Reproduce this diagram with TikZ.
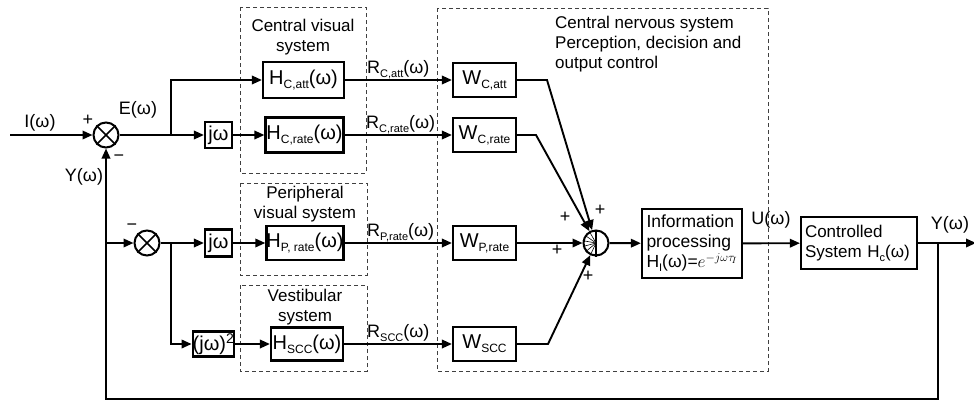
\documentclass[tikz,border=0pt]{standalone}
\usepackage{fontspec}
\setmainfont{Liberation Sans}
\usetikzlibrary{arrows.meta}
% lowered small subscript in text
\newcommand\lo[2][12]{\raisebox{-4pt}{\fontsize{#1}{#1}\selectfont #2}}
\tikzset{
  wire/.style={line width=1.9pt},
  arr/.style={wire, -{Triangle[length=10pt,width=8.5pt]}},
  blk/.style={draw, line width=2.2pt, inner sep=0pt, font=\fontsize{20}{22}\selectfont},
  wblk/.style={blk, minimum width=63pt, minimum height=34pt},
  frame/.style={line width=0.9pt, dash pattern=on 4pt off 3pt, black!75},
  captxt/.style={font=\fontsize{17}{20}\selectfont, align=center, inner sep=0pt},
  sig/.style={font=\fontsize{18}{20}\selectfont, inner sep=0pt},
  sgn/.style={font=\fontsize{18}{18}\selectfont, inner sep=0pt},
  junc/.style={draw, circle, line width=2pt, minimum size=25pt, inner sep=0pt},
}
\begin{document}
\begin{tikzpicture}[x=1pt, y=-1pt]
\useasboundingbox (0,0) rectangle (974,400);

% dashed group frames
\draw[frame] (240,7) rectangle (366,173);
\draw[frame] (240,183) rectangle (367,275);
\draw[frame] (240,285) rectangle (367,371);
\draw[frame] (437,8) rectangle (768,371);

\node[captxt] (tcv) at (303,37) {Central visual\\system};
\node[captxt] (tpv) at (305,204) {Peripheral\\visual system};
\node[captxt] (tvs) at (305,307) {Vestibular\\system};
\node[captxt, align=left, anchor=north west] (tcns) at (555,16)
  {Central nervous system\\Perception, decision and\\output control};

% summing junctions with cross
\node[junc] (s1) at (106,135) {};
\draw[line width=1.5pt] (s1.45) -- (s1.225) (s1.135) -- (s1.315);
\node[junc] (s2) at (147,243) {};
\draw[line width=1.5pt] (s2.45) -- (s2.225) (s2.135) -- (s2.315);

% multi-input junction
\node[junc] (sum) at (596,243) {};
\draw[line width=1.5pt] (sum.north) -- (sum.south);
\foreach \a in {120,145,170,195,220,245}
  \draw[line width=0.6pt] (sum.center) -- (sum.\a);

% blocks
\node[blk, minimum width=27pt, minimum height=26pt] (jw1) at (218.5,135) {jω};
\node[blk, minimum width=27pt, minimum height=27pt] (jw2) at (218.5,243) {jω};
\node[blk, minimum width=37pt, minimum height=25pt] (jw3) at (213.5,344) {(jω)\textsuperscript{2}};

\node[blk, minimum width=81pt, minimum height=36pt] (hca) at (303.5,80) {H\lo{C,att}(ω)};
\node[blk, minimum width=78pt, minimum height=35pt] (hcr) at (304.5,135) {H\lo{C,rate}(ω)};
\node[blk, minimum width=76pt, minimum height=34pt] (hpr) at (305,243) {H\lo{P, rate}(ω)};
\node[blk, minimum width=72pt, minimum height=33pt] (hsc) at (307,344) {H\lo{SCC}(ω)};

\node[wblk] (wca) at (484.5,80) {W\lo{C,att}};
\node[wblk] (wcr) at (484.5,135) {W\lo{C,rate}};
\node[wblk] (wpr) at (484.5,243) {W\lo{P,rate}};
\node[wblk] (wsc) at (484.5,344) {W\lo{SCC}};

\node[blk, minimum width=100pt, minimum height=69pt, text width=91pt, align=left,
      font=\fontsize{17.5}{20}\selectfont] (info) at (692,243.5)
  {Information\\processing\\H\lo[11]{I}(ω)=\(e^{-j\omega\tau_{\!I}}\)};
\node[blk, minimum width=116pt, minimum height=52pt, text width=108pt, align=left,
      font=\fontsize{17}{20}\selectfont] (ctrl) at (859,243)
  {Controlled\\System H\lo[11]{c}(ω)};

% branch points and corners
\coordinate (in) at (10,135);
\coordinate (b1) at (171,135);
\coordinate (b4) at (106,243);
\coordinate (b5) at (171,243);
\coordinate (k1) at (547,80);
\coordinate (k2) at (536,135);
\coordinate (k4) at (548,344);
\coordinate (b3) at (938,243);
\coordinate (out) at (976,243);
\coordinate (fr) at (938,399);
\coordinate (fl) at (106,399);

% connectors
\draw[arr] (in) -- (s1);
\draw[wire] (s1) -- (b1);
\draw[arr] (b1) -- (jw1);
\draw[arr] (b1) |- (hca);
\draw[arr] (jw1) -- (hcr);
\draw[arr] (hca) -- (wca);
\draw[arr] (hcr) -- (wcr);

\draw[arr] (b4) -- (s2);
\draw[wire] (s2) -- (b5);
\draw[arr] (b5) -- (jw2);
\draw[arr] (b5) |- (jw3);
\draw[arr] (jw2) -- (hpr);
\draw[arr] (jw3) -- (hsc);
\draw[arr] (hpr) -- (wpr);
\draw[arr] (hsc) -- (wsc);

\draw[arr] (wca.east) -- (k1) -- (sum);
\draw[arr] (wcr.east) -- (k2) -- (sum);
\draw[arr] (wpr) -- (sum);
\draw[arr] (wsc.east) -- (k4) -- (sum);

\draw[arr] (sum) -- (info);
\draw[arr] (info) -- (ctrl);
\draw[arr] (ctrl) -- (out);
\draw[arr] (b3) -- (fr) -- (fl) -- (s1);

% signal labels
\node[sig, anchor=base] (li) at (40,127) {I(ω)};
\node[sig, anchor=base] (le) at (138,114) {E(ω)};
\node[sig, anchor=base] (ly) at (84,181) {Y(ω)};
\node[sig, anchor=base] (lu) at (771,224) {U(ω)};
\node[sig, anchor=base] (lyo) at (950,229) {Y(ω)};
\node[sig, anchor=base west] (rca) at (367,73) {R\lo[11]{C,att}(ω)};
\node[sig, anchor=base west] (rcr) at (366,128) {R\lo[11]{C,rate}(ω)};
\node[sig, anchor=base west] (rpr) at (367,236) {R\lo[11]{P,rate}(ω)};
\node[sig, anchor=base west] (rsc) at (367,337) {R\lo[11]{SCC}(ω)};

% signs
\node[sgn] (p1) at (88,120) {+};
\node[sgn] (m1) at (119,158) {−};
\node[sgn] (m2) at (132,227) {−};
\node[sgn] (p2) at (565,217) {+};
\node[sgn] (p3) at (600,210) {+};
\node[sgn] (p4) at (557,250) {+};
\node[sgn] (p5) at (588,276) {+};
\end{tikzpicture}
\end{document}
